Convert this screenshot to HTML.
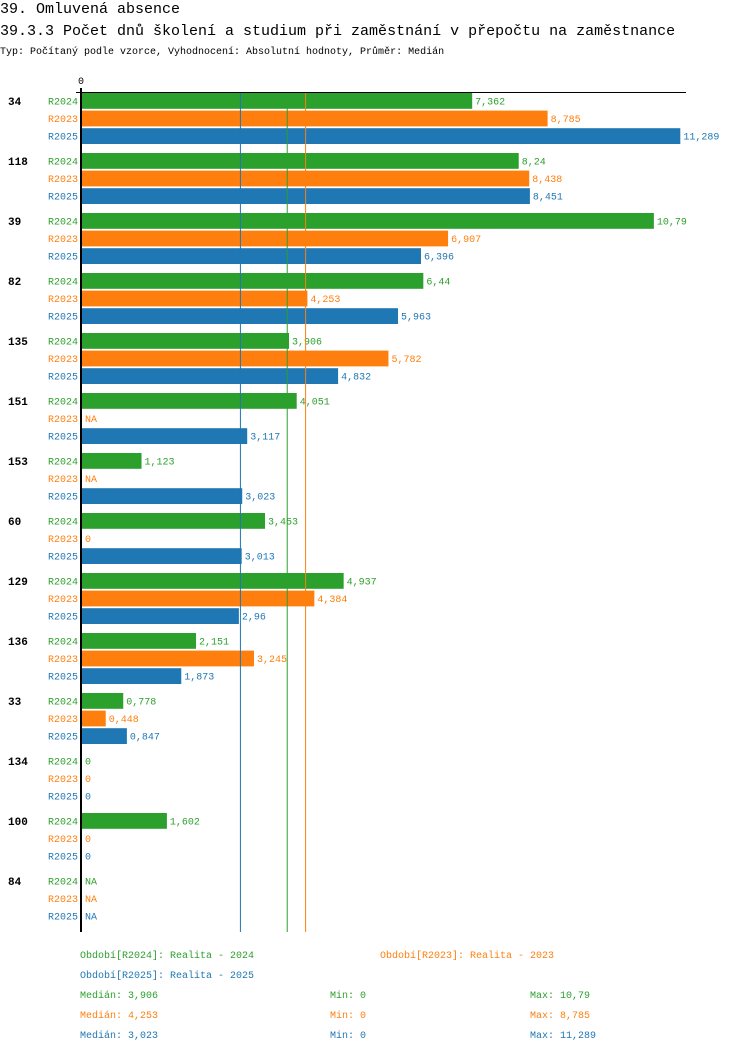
<!DOCTYPE html>
<html><head><meta charset="utf-8">
<style>
body{margin:0;background:#fff;width:750px;height:1052px;overflow:hidden;font-family:"Liberation Mono",monospace;}
svg{display:block}
</style></head>
<body>
<svg id="chart" width="750" height="1052" xmlns="http://www.w3.org/2000/svg" font-family="Liberation Mono, monospace">
<text x="0" y="13" font-size="15" fill="#000">39. Omluvená absence</text>
<text x="0" y="35" font-size="15" fill="#000">39.3.3 Počet dnů školení a studium při zaměstnání v přepočtu na zaměstnance</text>
<text x="0" y="54" font-size="10" fill="#000">Typ: Počítaný podle vzorce, Vyhodnocení: Absolutní hodnoty, Průměr: Medián</text>
<g id="plot"></g>
<g id="legend" font-size="10">
<text x="80" y="958" fill="#2ca02c">Období[R2024]: Realita - 2024</text>
<text x="380" y="958" fill="#ff7f0e">Období[R2023]: Realita - 2023</text>
<text x="80" y="978" fill="#1f77b4">Období[R2025]: Realita - 2025</text>
<text x="80" y="998" fill="#2ca02c">Medián: 3,906</text>
<text x="330" y="998" fill="#2ca02c">Min: 0</text>
<text x="530" y="998" fill="#2ca02c">Max: 10,79</text>
<text x="80" y="1018" fill="#ff7f0e">Medián: 4,253</text>
<text x="330" y="1018" fill="#ff7f0e">Min: 0</text>
<text x="530" y="1018" fill="#ff7f0e">Max: 8,785</text>
<text x="80" y="1038" fill="#1f77b4">Medián: 3,023</text>
<text x="330" y="1038" fill="#1f77b4">Min: 0</text>
<text x="530" y="1038" fill="#1f77b4">Max: 11,289</text>
</g>
</svg>
<script>
const categories = ["34","118","39","82","135","151","153","60","129","136","33","134","100","84"];
const seriesNames = ["R2024","R2023","R2025"];
const r2024 = [7.362,8.24,10.79,6.44,3.906,4.051,1.123,3.453,4.937,2.151,0.778,0,1.602,null];
const r2023 = [8.785,8.438,6.907,4.253,5.782,null,null,0,4.384,3.245,0.448,0,0,null];
const r2025 = [11.289,8.451,6.396,5.963,4.832,3.117,3.023,3.013,2.96,1.873,0.847,0,0,null];
const medians = [3.906,4.253,3.023];

const colors = ["#2ca02c","#ff7f0e","#1f77b4"];
const series = [r2024,r2023,r2025];
const NS = "http://www.w3.org/2000/svg";
const x0 = 82, scale = 53.0, topY = 92, groupH = 60;
const xPos = v => x0 + v*scale;
const plot = document.getElementById('plot');
function mk(tag, attrs){const e=document.createElementNS(NS,tag);for(const k in attrs)e.setAttribute(k,attrs[k]);plot.appendChild(e);return e;}
const bottomY = topY + categories.length*groupH;
const fmt = v => String(v).replace('.',',');

categories.forEach((c,i)=>{
  const gy = topY + i*groupH;
  const t = mk('text',{x:8,y:gy+13,'font-size':11,'font-weight':'bold',fill:'#000'});
  t.textContent = c;
  
  
  series.forEach((s,j)=>{
    const by = gy + 1 + j*17.6;
    const cy = by + 8;
    const sl = mk('text',{x:78,y:cy+3.5,'font-size':10,fill:colors[j],'text-anchor':'end'});
    sl.textContent = seriesNames[j];
    
    
    const v = s[i];
    let lx = x0+3;
    if(v!==null && v>0){
      const r = mk('rect',{x:x0,y:by,width:xPos(v)-x0,height:15.8,fill:colors[j]});
      
      
      lx = xPos(v)+3;
    }
    const vl = mk('text',{x:lx,y:cy+3.5,'font-size':10,fill:colors[j]});
    vl.textContent = v===null ? 'NA' : fmt(v);
    
    
  });
});
[2,0,1].forEach(j=>{
  const lx = xPos(medians[j]) - 1.8;
  const l = mk('line',{x1:lx,x2:lx,y1:topY,y2:bottomY,stroke:colors[j],'stroke-width':1});
  
  
});
const ax = mk('line',{x1:81,x2:81,y1:topY-4,y2:bottomY,stroke:'#000','stroke-width':2});


const tx = mk('line',{x1:76,x2:686,y1:topY+0.5,y2:topY+0.5,stroke:'#000','stroke-width':1});


const z = mk('text',{x:81,y:84,'font-size':10,fill:'#000','text-anchor':'middle'});
z.textContent='0';


</script>
</body></html>
